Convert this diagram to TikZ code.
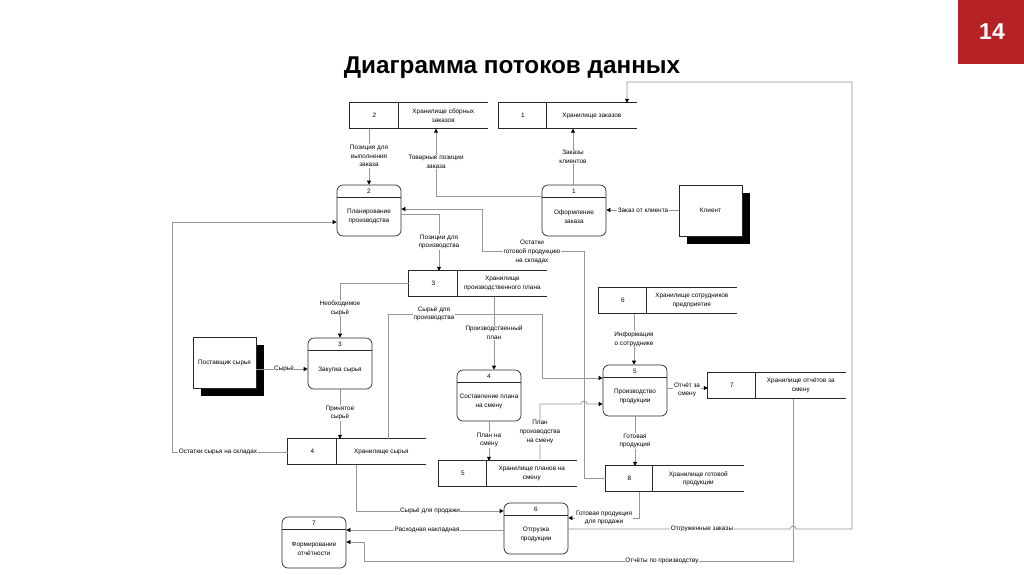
\documentclass[tikz,border=0pt]{standalone}
\usepackage{fontspec}
\setmainfont{Liberation Sans}
\usetikzlibrary{arrows.meta}
\definecolor{linegray}{RGB}{150,150,150}
\definecolor{slidered}{RGB}{180,34,38}
\definecolor{shapeline}{RGB}{40,40,40}

\newcommand\dfdstore[6]{% name, x, y (top-left), divider offset, number, text
  \node[storebox] (#1) at ({#2+69},{#3+12.75}) {};
  \draw[shapeline, line width=0.7pt] (#1.north east) -- (#1.north west) -- (#1.south west) -- (#1.south east);
  \draw[shapeline, line width=0.7pt] ([xshift=#4]#1.north west) -- ([xshift=#4]#1.south west);
  \node (#1n) at ([xshift={#4/2}]#1.west) {#5};
  \node (#1t) at ([xshift={(138+#4)/2}]#1.west) {#6};
}
\newcommand\dfdproc[5]{% name, x, y (top-left), number, text
  \node[procbox] (#1) at ({#2+32},{#3+25.5}) {};
  \draw[shapeline, line width=0.7pt] ([yshift=-12.5pt]#1.north west) -- ([yshift=-12.5pt]#1.north east);
  \node (#1n) at ([yshift=-6.5pt]#1.north) {#4};
  \node (#1t) at ([yshift=-6pt]#1.center) {#5};
}
\newcommand\dfdext[4]{% name, x, y (top-left), text
  \node[shadowbox] (#1s) at ({#2+39.5},{#3+33.5}) {};
  \node[extbox] (#1) at ({#2+31.5},{#3+25.5}) {#4};
}

\begin{document}
\begin{tikzpicture}[x=1pt,y=-1pt,
  every node/.style={font=\fontsize{6.4}{8.8}\selectfont, inner sep=0pt, align=center},
  storebox/.style={minimum width=138pt, minimum height=25.5pt, draw=none},
  procbox/.style={draw=shapeline, rounded corners=6pt, minimum width=64pt, minimum height=51pt, line width=0.7pt},
  extbox/.style={draw=shapeline, fill=white, minimum width=63pt, minimum height=51pt, line width=0.7pt},
  shadowbox/.style={fill=black, minimum width=63pt, minimum height=51pt},
  flow/.style={draw=linegray, line width=0.7pt, -{Triangle[length=4pt,width=4pt,color=black]}},
  link/.style={draw=linegray, line width=0.7pt},
  lbl/.style={fill=white, inner sep=0.6pt},
  ]
\path[fill=white] (0,0) rectangle (1024,574);
\useasboundingbox (0,0) rectangle (1024,574);

% slide number and title
\fill[slidered] (958,0) rectangle (1024,64);
\node[text=white, font=\fontsize{23}{26}\selectfont\bfseries, anchor=base] (slidenum) at (992,39) {14};
\node[font=\fontsize{24.3}{27}\selectfont\bfseries, anchor=base] (title) at (512,73) {Диаграмма потоков данных};

% stores
\dfdstore{s2}{350}{103}{49}{2}{Хранилище сборных\\заказов}
\dfdstore{s1}{499}{103}{48}{1}{Хранилище заказов}
\dfdstore{s3}{409}{271}{49}{3}{Хранилище\\производственного плана}
\dfdstore{s6}{599}{288}{48}{6}{Хранилище сотрудников\\предприятия}
\dfdstore{s7}{708}{373}{48}{7}{Хранилище отчётов за\\смену}
\dfdstore{s4}{288}{439}{49}{4}{Хранилище сырья}
\dfdstore{s5}{439}{461}{48}{5}{Хранилище планов на\\смену}
\dfdstore{s8}{606}{466}{47}{8}{Хранилище готовой\\продукции}

% processes
\dfdproc{p2}{337}{185}{2}{Планирование\\производства}
\dfdproc{p1}{542}{185}{1}{Оформление\\заказа}
\dfdproc{p3}{308}{338}{3}{Закупка сырья}
\dfdproc{p4}{457}{370}{4}{Составление плана\\на смену}
\dfdproc{p5}{603}{365}{5}{Производство\\продукции}
\dfdproc{p6}{504}{503}{6}{Отгрузка\\продукции}
\dfdproc{p7}{282}{517}{7}{Формирование\\отчётности}

% external entities
\dfdext{kl}{679}{185}{Клиент}
\dfdext{ps}{193}{337}{Поставщик сырья}

% flows
\draw[flow] (s2.south -| 369,0) -- (p2.north -| 369,0);
\draw[flow] (p1.west |- 0,196) -- (436,196) -- (s2.south -| 436,0);
\draw[flow] (p1.north -| 573,0) -- (s1.south -| 573,0);
\draw[flow] (kl.west |- 0,210) -- (p1.east |- 0,210);
\draw[flow] (p6.east |- 0,529) -- (790,529) arc[start angle=180,end angle=360,radius=3] -- (852,529) -- (852,82) -- (627,82) -- (s1.north -| 627,0);
\draw[flow] (s7.south -| 793,0) -- (793,561) -- (364,561) -- (364,542) -- (p7.east |- 0,542);
\draw[flow] (p6.west |- 0,530) -- (p7.east |- 0,530);
\draw[flow] (s4.south -| 356,0) -- (356,511) -- (p6.west |- 0,511);
\draw[flow] (s8.south -| 639,0) -- (639,518) -- (p6.east |- 0,518);
\draw[flow] (p5.south -| 635,0) -- (s8.north -| 635,0);
\draw[flow] (p5.east |- 0,388) -- (s7.west |- 0,388);
\draw[flow] (s6.south -| 634,0) -- (p5.north -| 634,0);
\draw[flow] (s3.south -| 494,0) -- (p4.north -| 494,0);
\draw[flow] (s4.north -| 388,0) -- (388,314) -- (542,314) -- (542,378) -- (p5.west |- 0,378);
\draw[flow] (s3.west |- 0,283) -- (340,283) -- (p3.north -| 340,0);
\draw[flow] (ps.east |- 0,369) -- (p3.west |- 0,369);
\draw[flow] (p3.south -| 340,0) -- (s4.north -| 340,0);
\draw[flow] (s4.west |- 0,452) -- (172,452) -- (172,222) -- (p2.west |- 0,222);
\draw[flow] (p2.east |- 0,214) -- (439,214) -- (s3.north -| 439,0);
\draw[flow] (s8.west |- 0,478) -- (584,478) -- (584,251) -- (482,251) -- (482,209) -- (p2.east |- 0,209);
\draw[flow] (s5.north -| 540,0) -- (540,404) -- (581,404) arc[start angle=180,end angle=360,radius=3] -- (p5.west |- 0,404);
\draw[flow] (p4.south -| 489,0) -- (s5.north -| 489,0);

% flow labels
\node[lbl] (l1) at (369,156) {Позиция для\\выполнения\\заказа};
\node[lbl] (l2) at (436,162) {Товарные позиции\\заказа};
\node[lbl] (l3) at (573,157) {Заказы\\клиентов};
\node[lbl] (l4) at (643,210) {Заказ от клиента};
\node[lbl] (l5) at (702,529) {Отгруженные заказы};
\node[lbl] (l6) at (662,561) {Отчёты по производству};
\node[lbl] (l7) at (427,530) {Расходная накладная};
\node[lbl] (l8) at (430,511) {Сырьё для продажи};
\node[lbl] (l9) at (604,518) {Готовая продукция\\для продажи};
\node[lbl] (l10) at (635,441) {Готовая\\продукция};
\node[lbl] (l11) at (687,390) {Отчёт за\\смену};
\node[lbl] (l12) at (634,339) {Информация\\о сотруднике};
\node[lbl] (l13) at (494,333) {Производственный\\план};
\node[lbl] (l14) at (434,314) {Сырьё для\\производства};
\node[lbl] (l15) at (340,308) {Необходимое\\сырьё};
\node[lbl] (l16) at (284,369) {Сырьё};
\node[lbl] (l17) at (340,413) {Принятое\\сырьё};
\node[lbl] (l18) at (218,452) {Остатки сырья на складах};
\node[lbl] (l19) at (439,242) {Позиции для\\производства};
\node[lbl] (l20) at (532,252) {Остатки\\готовой продукцию\\на складах};
\node[lbl] (l21) at (540,432) {План\\производства\\на смену};
\node[lbl] (l22) at (489,440) {План на\\смену};
\end{tikzpicture}
\end{document}
